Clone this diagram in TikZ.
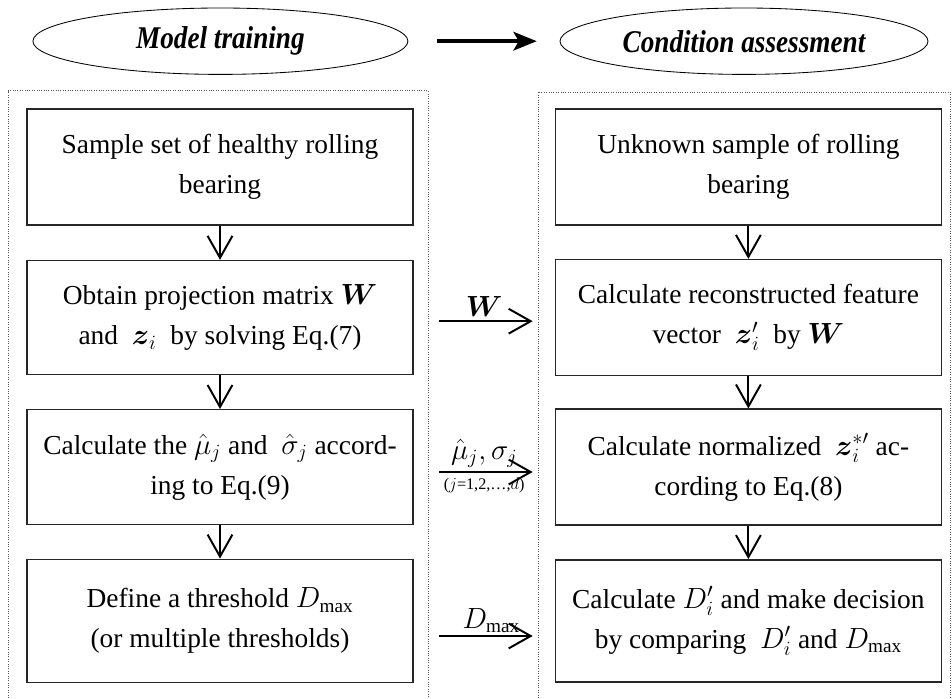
\documentclass[tikz,border=0pt]{standalone}
\usepackage{amsmath}
\usepackage{fontspec}
\setmainfont{Liberation Serif}
\setmathrm{Liberation Serif}
\usetikzlibrary{arrows.meta,shapes.geometric}

\begin{document}
\begin{tikzpicture}[
  font=\fontsize{19.5pt}{28.5pt}\selectfont,
  stage/.style={draw=black, ellipse, line width=0.6pt, minimum height=1.66cm,
                font=\fontsize{22.5pt}{26pt}\selectfont\bfseries\itshape},
  stepbox/.style={draw=black!85, line width=1pt, minimum width=9.65cm,
                  minimum height=2.9cm, align=center, inner sep=2pt},
  frame/.style={draw=black!65, densely dotted, line width=0.7pt},
  flow/.style={-{Straight Barb[length=5.5mm,width=6.2mm]}, line width=1.4pt},
  pass/.style={flow, shorten <=6.25mm, shorten >=5.5mm},
  small/.style={font=\fontsize{11.5pt}{13pt}\selectfont}
]
\useasboundingbox (0,0) rectangle (23.8,17.45);

% Zwei Phasen oben
\node[stage, minimum width=9.375cm] (train) at (5.51,16.42)
  {\scalebox{0.86}[1]{Model training}};
\node[stage, minimum width=9.2cm] (assess) at (18.6,16.42)
  {\scalebox{0.86}[1]{Condition assessment}};
\draw[-{Stealth[length=5.8mm,width=4.6mm,inset=1.3mm]}, line width=3pt,
  shorten <=7.2mm, shorten >=5.7mm] (train) -- (assess);

% gepunktete Rahmen (nach unten offen)
\draw[frame] (0.2,0) |- (10.7,15.18) -- (10.7,0);
\draw[frame] (13.45,0) |- (23.75,15.15) -- (23.75,0);

% Training
\node[stepbox] (tr1) at (5.5,13.28) {Sample set of healthy rolling\\bearing};
\node[stepbox, minimum height=2.85cm] (tr2) at (5.5,9.51)
  {Obtain projection matrix $\boldsymbol{W}$\\and \ $\boldsymbol{z}_i$ \ by solving Eq.(7)};
\node[stepbox, minimum height=2.875cm] (tr3) at (5.5,5.77)
  {Calculate the $\hat{\mu}_j$ and \ $\hat{\sigma}_j$ accord-\\ing to Eq.(9)};
\node[stepbox, minimum height=3.075cm] (tr4) at (5.5,1.93)
  {Define a threshold $D_{\max}$\\(or multiple thresholds)};

% Bewertung
\node[stepbox] (as1) at (18.71,13.28) {Unknown sample of rolling\\bearing};
\node[stepbox] (as2) at (18.71,9.51)
  {Calculate reconstructed feature\\vector \ $\boldsymbol{z}_i^{\prime}$ \ by $\boldsymbol{W}$};
\node[stepbox] (as3) at (18.71,5.77)
  {Calculate normalized \ $\boldsymbol{z}_i^{*\prime}$ ac-\\cording to Eq.(8)};
\node[stepbox, minimum height=3.05cm] (as4) at (18.71,1.93)
  {Calculate $D_i^{\prime}$ and make decision\\by comparing \ $D_i^{\prime}$ and $D_{\max}$};

\foreach \a/\b in {tr1/tr2,tr2/tr3,tr3/tr4,as1/as2,as2/as3,as3/as4}
  \draw[flow] (\a) -- (\b);

% Uebergabe der Groessen
\draw[pass] ([yshift=-0.9mm]tr2.east) -- node[above=-1pt] {$\boldsymbol{W}$}
  ([yshift=-0.9mm]as2.west);
\draw[pass] ([yshift=-1.2mm]tr3.east) --
  node[above=-1pt] {$\hat{\mu}_j,\sigma_j$}
  node[small, below=0pt] {($j$=1,2,\ldots,$d$)} ([yshift=-1.2mm]as3.west);
\draw[pass] ([yshift=-3.8mm]tr4.east) -- node[above=-2pt, pos=0.55] {$D_{\max}$}
  ([yshift=-3.8mm]as4.west);

\end{tikzpicture}
\end{document}
